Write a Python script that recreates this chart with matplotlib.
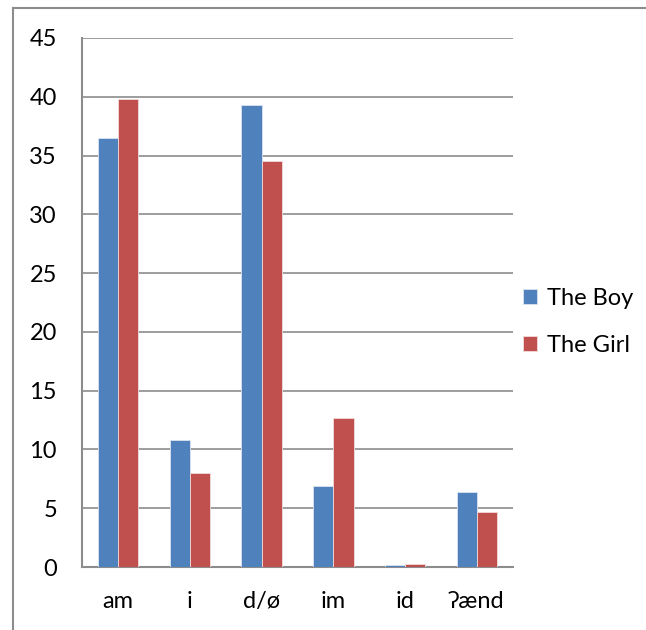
import numpy as np
import matplotlib.pyplot as plt
from matplotlib.lines import Line2D

categories = ['am', 'i', 'd/ø', 'im', 'id', 'ʔænd']
boy = [36.5, 10.8, 39.3, 6.9, 0.2, 6.4]
girl = [39.8, 8.0, 34.5, 12.7, 0.25, 4.7]
yticks = [0, 5, 10, 15, 20, 25, 30, 35, 40, 45]

plt.rcParams['font.family'] = ['Lato', 'DejaVu Sans']
fs = 17

fig = plt.figure(figsize=(6.46, 6.30), dpi=100)
ax = fig.add_axes([82 / 646, 1 - 567 / 630, (513 - 82) / 646, (567 - 38) / 630])

x = np.arange(len(categories))
w = 0.28
ax.bar(x - w / 2, boy, w, color='#4F81BD', edgecolor='#dbe5f1', linewidth=0.6, label='The Boy', zorder=3)
ax.bar(x + w / 2, girl, w, color='#C0504D', edgecolor='#f2dcdb', linewidth=0.6, label='The Girl', zorder=3)

ax.set_xlim(-0.5, len(categories) - 0.5)
ax.set_ylim(0, 45)
ax.set_yticks(yticks)
ax.set_xticks(x)
ax.set_xticklabels(categories, fontsize=fs)
ax.tick_params(axis='y', labelsize=fs, length=0, pad=18)
ax.tick_params(axis='x', length=0, pad=17)
ax.yaxis.grid(True, color='#8c8c8c', linewidth=1.2, zorder=0)
for s in ['top', 'right']:
    ax.spines[s].set_visible(False)
for s in ['left', 'bottom']:
    ax.spines[s].set_color('#8c8c8c')
    ax.spines[s].set_linewidth(1.5)

fig.legend(loc='center left', bbox_to_anchor=(502 / 646, 1 - 322 / 630), frameon=False,
           fontsize=fs, handlelength=0.6, handleheight=0.6, handletextpad=0.4,
           labelspacing=1.1)

# outer frame (top and left edges only visible)
fig.add_artist(Line2D([13 / 646, 1], [1 - 8 / 630, 1 - 8 / 630], color='#8c8c8c', linewidth=1.5))
fig.add_artist(Line2D([13 / 646, 13 / 646], [0, 1 - 8 / 630], color='#8c8c8c', linewidth=1.5))

fig.savefig('out.png', dpi=100)
